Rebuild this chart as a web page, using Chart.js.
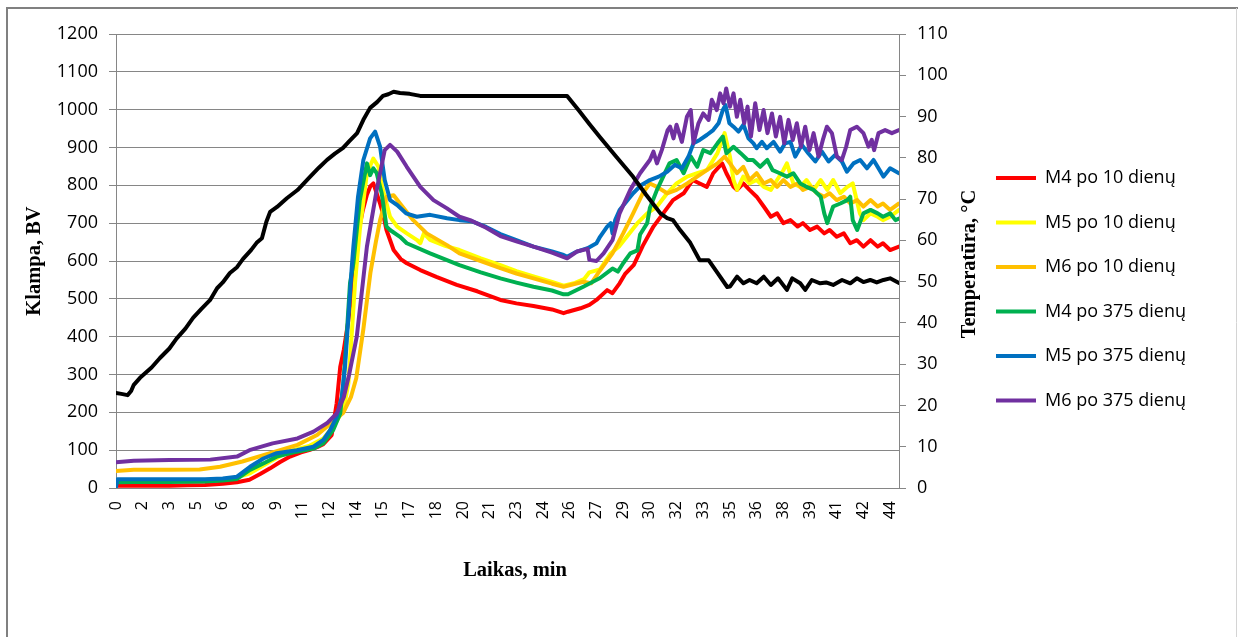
<!DOCTYPE html>
<html lang="lt">
<head>
<meta charset="utf-8">
<title>Klampa ir temperatūra</title>
<script src="https://cdn.jsdelivr.net/npm/chart.js@4.4.1/dist/chart.umd.min.js"></script>
<style>
  html, body { margin: 0; padding: 0; background: #ffffff; }
  #wrap { position: relative; width: 1238px; height: 637px; }
</style>
</head>
<body>
<div id="wrap"><canvas id="chart" width="1238" height="637"></canvas></div>
<script>
// Time axis: labelled positions (min) and the rounded labels shown under them
const tickMinutes = [0, 1.5, 3, 4.5, 6, 7.5, 9, 10.5, 12, 13.5, 15, 16.5, 18, 19.5, 21, 22.5, 24, 25.5, 27, 28.5, 30, 31.5, 33, 34.5, 36, 37.5, 39, 40.5, 42, 43.5];
const tickLabels = ['0', '2', '3', '5', '6', '8', '9', '11', '12', '14', '15', '17', '18', '20', '21', '23', '24', '26', '27', '29', '30', '32', '33', '35', '36', '38', '39', '41', '42', '44'];

const seriesNames = ['M4 po 10 dienų', 'M5 po 10 dienų', 'M6 po 10 dienų', 'M4 po 375 dienų', 'M5 po 375 dienų', 'M6 po 375 dienų'];

// Viscosity, BV — [time min, value]
const m4d10 = [[0,6],[1,6],[2,6],[3,6],[4,7],[5,8],[6,11],[6.8,15],[7.5,22],[8.1,37],[8.66,52],[9.2,68],[9.78,83],[10.4,94],[10.9,101],[11.3,108],[11.65,116],[12.12,140],[12.4,224],[12.6,320],[12.8,365],[13.05,440],[13.3,540],[13.55,660],[13.85,730],[14.1,775],[14.3,798],[14.46,805],[14.65,779],[14.85,750],[15.0,726],[15.2,682],[15.6,629],[16.0,605],[16.34,594],[17.1,576],[18.0,558],[19.15,537],[20.3,520],[21.6,497],[22.5,488],[23.46,481],[24.5,472],[25.15,462],[25.4,466],[26.1,475],[26.6,484],[27.0,497],[27.6,523],[27.9,515],[28.3,541],[28.6,565],[29.1,590],[29.6,640],[30.2,691],[30.75,726],[31.3,761],[31.9,779],[32.4,814],[32.8,805],[33.2,796],[33.56,832],[34.06,858],[34.3,832],[34.7,796],[34.9,788],[35.25,805],[35.6,788],[36.0,770],[36.4,744],[36.8,717],[37.15,726],[37.5,700],[37.9,708],[38.3,691],[38.6,700],[39.0,682],[39.4,691],[39.8,673],[40.1,682],[40.5,664],[40.9,673],[41.26,647],[41.63,655],[42.0,638],[42.4,655],[42.8,638],[43.1,647],[43.5,629],[44,638]];
const m5d10 = [[0,19],[1,20],[3,20],[5,21],[6,23],[6.8,28],[7.53,39],[8.66,70],[9.78,98],[10.9,112],[11.65,131],[12.2,162],[12.78,206],[13.06,277],[13.25,409],[13.43,541],[13.7,682],[14.1,832],[14.46,871],[14.75,849],[15.0,788],[15.4,717],[15.8,691],[16.34,673],[16.9,656],[17.1,647],[17.3,673],[17.65,656],[18.5,640],[19.3,629],[20.5,607],[21.6,589],[22.5,573],[23.46,559],[24.5,545],[25.15,535],[25.8,542],[26.3,552],[26.6,570],[27.2,578],[27.8,620],[28.3,640],[28.7,664],[29.3,700],[29.85,726],[30.4,744],[30.97,779],[31.5,805],[32.1,823],[32.66,832],[33.2,840],[33.8,885],[34.2,938],[34.5,876],[34.7,814],[34.9,788],[35.25,823],[35.6,805],[36.0,814],[36.4,796],[36.8,788],[37.15,814],[37.5,840],[37.7,858],[38.06,805],[38.45,796],[38.8,814],[39.2,788],[39.6,814],[39.97,788],[40.3,814],[40.7,779],[41.1,796],[41.4,805],[41.8,726],[42.0,708],[42.4,726],[42.8,717],[43.1,708],[43.5,717],[44,735]];
const m6d10 = [[0,45],[1,48],[2,48],[3,48],[4.7,49],[5.85,56],[7.1,70],[8.66,92],[10.2,114],[11.3,140],[11.85,162],[12.76,198],[13.2,240],[13.5,290],[13.9,420],[14.3,570],[14.6,650],[14.84,708],[15.2,770],[15.6,774],[15.96,752],[16.7,708],[17.46,673],[18.6,642],[19.3,620],[20.5,600],[21.6,581],[22.5,567],[23.46,554],[24.5,540],[25.15,532],[26.26,545],[26.7,541],[27.2,575],[27.9,620],[28.5,673],[29.06,726],[29.6,779],[30.0,805],[30.4,796],[30.97,779],[31.5,788],[32.1,805],[32.66,823],[33.2,840],[33.8,858],[34.2,876],[34.5,858],[34.9,832],[35.25,849],[35.6,814],[36.0,832],[36.4,805],[36.8,814],[37.15,796],[37.5,814],[37.9,796],[38.3,805],[38.6,788],[39.0,796],[39.4,779],[39.8,770],[40.1,779],[40.5,761],[40.9,770],[41.26,752],[41.65,761],[42.0,744],[42.4,761],[42.8,744],[43.1,752],[43.5,735],[44,752]];
const m4d375 = [[0,12],[0.1,15],[1,16],[3,16],[5,17],[6,20],[6.8,24],[7.53,48],[8.28,65],[9.03,83],[10.16,96],[11.09,104],[11.65,118],[12.2,153],[12.6,197],[12.78,277],[12.97,409],[13.15,541],[13.34,594],[13.7,760],[14.1,858],[14.28,827],[14.46,845],[14.65,832],[14.93,779],[15.2,691],[15.4,682],[15.96,664],[16.34,647],[17.65,620],[19.3,589],[20.5,570],[21.6,554],[22.5,543],[23.46,532],[24.5,522],[25.15,512],[25.4,512],[26.26,532],[27.2,555],[27.9,580],[28.2,572],[28.5,594],[28.9,620],[29.3,628],[29.45,670],[29.85,700],[30.0,740],[30.4,788],[30.75,823],[31.1,858],[31.5,867],[31.9,832],[32.3,876],[32.66,849],[33.0,893],[33.4,885],[33.8,911],[34.1,929],[34.3,885],[34.7,902],[35.1,885],[35.5,867],[35.8,867],[36.2,849],[36.6,867],[36.9,840],[37.3,832],[37.7,823],[38.06,832],[38.45,805],[38.8,796],[39.2,788],[39.6,770],[39.8,726],[39.97,700],[40.3,744],[40.7,752],[41.1,761],[41.26,770],[41.4,708],[41.65,682],[42.0,726],[42.4,735],[42.8,726],[43.1,717],[43.5,726],[43.8,708],[44,712]];
const m5d375 = [[0,2],[0.08,23],[1,23],[3,23],[5,23],[6,25],[6.8,30],[7.53,56],[8.28,78],[9.03,92],[10.16,100],[11.09,109],[11.65,127],[12.03,153],[12.4,188],[12.69,241],[12.87,321],[13.06,453],[13.25,585],[13.34,638],[13.6,770],[13.9,867],[14.28,924],[14.56,942],[14.84,902],[15.1,814],[15.4,761],[15.8,748],[16.3,726],[16.9,717],[17.65,722],[18.6,713],[19.3,708],[20.0,705],[20.8,690],[21.6,671],[22.5,655],[23.46,638],[24.5,625],[25.15,616],[25.35,611],[25.9,625],[26.5,634],[27.0,647],[27.2,664],[27.6,691],[27.8,700],[27.9,673],[28.05,708],[28.3,735],[29.06,779],[29.5,800],[30.0,814],[30.5,823],[30.97,836],[31.4,854],[31.8,845],[32.17,876],[32.45,911],[32.8,920],[33.2,933],[33.56,946],[33.86,964],[34.1,999],[34.25,1012],[34.47,964],[34.7,955],[34.98,942],[35.26,960],[35.54,924],[35.82,911],[36.0,898],[36.3,915],[36.57,898],[36.95,915],[37.32,889],[37.6,911],[37.9,915],[38.17,876],[38.54,907],[38.9,885],[39.3,863],[39.67,889],[40.04,863],[40.4,880],[40.79,863],[41.07,836],[41.44,858],[41.82,867],[42.2,845],[42.57,867],[43.13,823],[43.5,845],[44,832]];
const m6d375 = [[0,68],[1,72],[3,74],[5.3,75],[6.8,83],[7.5,100],[8.8,118],[10.2,131],[11.1,149],[11.85,171],[12.4,197],[12.8,240],[13.1,300],[13.53,400],[14.1,638],[14.65,788],[15.1,893],[15.4,907],[15.8,889],[16.34,849],[17.1,796],[17.84,761],[18.6,739],[19.3,717],[19.9,708],[20.8,688],[21.6,666],[22.5,652],[23.46,638],[24.5,622],[25.35,607],[25.9,625],[26.5,632],[26.6,603],[27.0,600],[27.4,620],[27.9,655],[28.3,726],[28.9,788],[29.45,832],[30.0,867],[30.2,889],[30.4,858],[30.67,893],[31.0,946],[31.14,955],[31.33,924],[31.5,960],[31.8,915],[32.08,981],[32.3,999],[32.45,911],[32.73,964],[33.0,990],[33.3,973],[33.48,1026],[33.76,999],[33.95,1043],[34.14,1017],[34.29,1056],[34.5,1008],[34.7,1043],[34.89,981],[35.08,1026],[35.3,964],[35.49,1008],[35.68,929],[35.92,1017],[36.16,946],[36.39,999],[36.61,938],[36.86,990],[37.08,929],[37.32,981],[37.55,911],[37.79,973],[38.03,920],[38.26,964],[38.49,902],[38.73,955],[38.97,893],[39.2,938],[39.48,876],[39.72,920],[39.95,955],[40.23,938],[40.51,876],[40.79,867],[41.03,902],[41.26,946],[41.63,955],[42.0,938],[42.29,902],[42.47,920],[42.6,893],[42.85,938],[43.22,946],[43.6,938],[44,946]];

// Temperature, °C — [time min, value]
const temperature = [[0,23],[0.3,22.8],[0.65,22.5],[0.85,23.5],[1.0,25],[1.35,26.7],[2.0,29.2],[2.47,31.5],[3.0,33.8],[3.4,36.2],[3.9,38.6],[4.33,41.2],[4.8,43.4],[5.28,45.5],[5.68,48.4],[6.0,49.8],[6.4,52.1],[6.8,53.5],[7.14,55.5],[7.6,57.7],[7.9,59.4],[8.2,60.5],[8.45,64.5],[8.66,66.9],[9.05,68.1],[9.6,70.2],[10.2,72.2],[10.9,75.4],[11.4,77.6],[11.86,79.5],[12.3,81.0],[12.76,82.4],[13.1,84.0],[13.55,86.0],[13.9,89.2],[14.28,92.1],[14.67,93.5],[15.0,95.0],[15.3,95.4],[15.6,96.0],[15.96,95.7],[16.5,95.5],[17.1,95.0],[18.5,95.0],[20.0,95.0],[21.5,95.0],[23.0,95.0],[24.5,95.0],[25.35,95.0],[26.0,91.5],[26.6,88.2],[27.2,85.0],[28.1,80.3],[29.06,75.4],[29.8,71.0],[30.58,66.6],[30.97,65.4],[31.3,64.9],[31.7,62.5],[32.27,59.4],[32.8,55.2],[33.3,55.2],[33.8,52.1],[34.35,48.7],[34.5,48.8],[34.9,51.2],[35.26,49.6],[35.6,50.4],[36.0,49.6],[36.4,51.2],[36.8,49.2],[37.2,50.8],[37.7,48.0],[38.0,50.8],[38.45,49.6],[38.73,48.0],[39.1,50.4],[39.57,49.6],[39.9,49.8],[40.3,49.2],[40.8,50.4],[41.26,49.6],[41.63,50.8],[42.0,49.9],[42.38,50.4],[42.75,49.8],[43.13,50.4],[43.5,50.8],[44,49.7]];

const seriesData = [m4d10, m5d10, m6d10, m4d375, m5d375, m6d375];
const seriesColors = ['#FF0000', '#FFFF00', '#FFC000', '#00B050', '#0070C0', '#7030A0'];

const SANS = '"Open Sans", "Liberation Sans", sans-serif';
const SERIF = '"Liberation Serif", "Times New Roman", serif';
const GRID = '#868686';
const LINE_W = 4;
const TITLE_FONT = 'bold 20.5px ' + SERIF;

// Legend geometry
const legendFont = 18;
const legendPad = 26.5;
const legendLine = 40;
const rightAxisWidth = 70.5;
const plotRight = 899;

const toPoints = arr => arr.map(([t, v]) => ({ x: t, y: v }));

function drawRotatedTitle(ctx, text, x, y, angle) {
  ctx.save();
  ctx.translate(x, y);
  ctx.rotate(angle);
  ctx.font = TITLE_FONT;
  ctx.fillStyle = '#000000';
  ctx.textAlign = 'center';
  ctx.textBaseline = 'middle';
  ctx.fillText(text, 0, 0);
  ctx.restore();
}

// Frame around the chart, the time-axis title and the right-hand axis title
const decor = {
  id: 'decor',
  beforeDraw(chart) {
    const ctx = chart.ctx;
    ctx.save();
    ctx.strokeStyle = '#808080';
    ctx.lineWidth = 2;
    ctx.beginPath();
    ctx.moveTo(7, 637);
    ctx.lineTo(7, 8);
    ctx.lineTo(1238, 8);
    ctx.stroke();
    ctx.strokeStyle = '#d4d4d4';
    ctx.lineWidth = 1;
    ctx.beginPath();
    ctx.moveTo(1236.5, 8);
    ctx.lineTo(1236.5, 637);
    ctx.stroke();
    ctx.restore();
  },
  afterDraw(chart) {
    const ctx = chart.ctx;
    const area = chart.chartArea;
    drawRotatedTitle(ctx, 'Temperatūra, °C', 970, (area.top + area.bottom) / 2 + 3, -Math.PI / 2);
    drawRotatedTitle(ctx, 'Laikas, min', 515, 571, 0);
  }
};

function drawChart() {
  const measure = document.createElement('canvas').getContext('2d');
  measure.font = legendFont + 'px ' + SANS;
  const longestName = Math.max(...seriesNames.map(n => measure.measureText(n).width));
  const legendWidth = legendPad + legendLine + legendFont / 2 + longestName + 10;
  const padRight = Math.max(0, 1238 - plotRight - rightAxisWidth - legendWidth);

  const datasets = seriesData.map((arr, i) => ({
    label: seriesNames[i],
    data: toPoints(arr),
    borderColor: seriesColors[i],
    backgroundColor: seriesColors[i],
    yAxisID: 'y',
    order: 6 - i
  }));
  datasets.push({
    label: 'Temperatūra',
    data: toPoints(temperature),
    borderColor: '#000000',
    backgroundColor: '#000000',
    yAxisID: 'y1',
    order: 0
  });

  new Chart(document.getElementById('chart'), {
    type: 'line',
    data: { datasets },
    options: {
      responsive: false,
      animation: false,
      devicePixelRatio: 1,
      layout: { padding: { top: 34, left: 0, right: padRight, bottom: 50 } },
      elements: {
        point: { radius: 0, hoverRadius: 0 },
        line: { tension: 0, borderWidth: LINE_W, borderCapStyle: 'round', borderJoinStyle: 'round', fill: false }
      },
      plugins: {
        tooltip: { enabled: false },
        legend: {
          position: 'right',
          align: 'start',
          maxWidth: 400,
          title: { display: true, text: ' ', font: { size: 10 }, padding: { top: 0, bottom: 96.5 } },
          labels: {
            usePointStyle: true,
            pointStyle: 'line',
            pointStyleWidth: legendLine,
            padding: legendPad,
            color: '#000000',
            font: { family: SANS, size: legendFont },
            generateLabels: chart => seriesNames.map((name, i) => ({
              text: name,
              fillStyle: seriesColors[i],
              strokeStyle: seriesColors[i],
              lineWidth: LINE_W,
              lineCap: 'butt',
              pointStyle: 'line',
              hidden: false,
              datasetIndex: i,
              fontColor: '#000000'
            }))
          }
        }
      },
      scales: {
        x: {
          type: 'linear',
          min: 0,
          max: 44,
          afterBuildTicks: s => { s.ticks = tickMinutes.map(v => ({ value: v })); },
          afterFit: s => { s.height = 99; },
          grid: { display: false, drawTicks: false },
          border: { display: true, color: GRID, width: 1 },
          ticks: {
            autoSkip: false,
            minRotation: 90,
            maxRotation: 90,
            padding: 13,
            color: '#000000',
            font: { family: SANS, size: 16 },
            callback: (v, i) => tickLabels[i]
          },
          title: { display: false }
        },
        y: {
          position: 'left',
          min: 0,
          max: 1200,
          afterFit: s => { s.width = 116; },
          grid: { color: GRID, lineWidth: 1, drawTicks: true, tickLength: 7 },
          border: { display: true, color: GRID, width: 1 },
          ticks: {
            stepSize: 100,
            padding: 11,
            color: '#000000',
            font: { family: SANS, size: 18 },
            callback: v => String(v)
          },
          title: {
            display: true,
            text: 'Klampa, BV',
            color: '#000000',
            font: { family: SERIF, size: 20.5, weight: 'bold' },
            padding: { top: 22.7, bottom: 0 }
          }
        },
        y1: {
          position: 'right',
          min: 0,
          max: 110,
          afterFit: s => { s.width = rightAxisWidth; },
          grid: { drawOnChartArea: false, color: GRID, lineWidth: 1, drawTicks: true, tickLength: 7 },
          border: { display: true, color: GRID, width: 1 },
          ticks: {
            stepSize: 10,
            padding: 11,
            color: '#000000',
            font: { family: SANS, size: 18 },
            callback: v => String(v)
          }
        }
      }
    },
    plugins: [decor]
  });
}

// Make sure the local fonts are ready before text is measured
Promise.all([
  document.fonts.load('18px "Open Sans"'),
  document.fonts.load('16px "Open Sans"'),
  document.fonts.load('bold 20.5px "Liberation Serif"')
]).then(drawChart, drawChart);
</script>
</body>
</html>
